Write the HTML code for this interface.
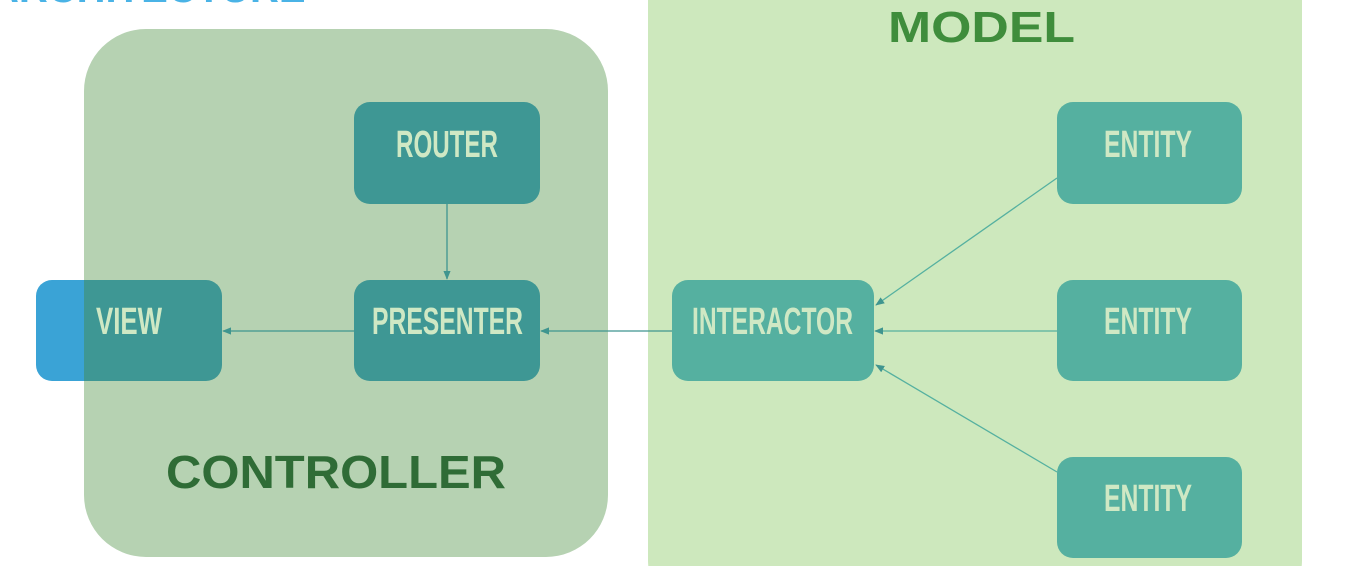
<!DOCTYPE html>
<html><head><style>html,body{margin:0;padding:0;background:#fff;overflow:hidden}</style></head>
<body>
<svg width="1352" height="566" xmlns="http://www.w3.org/2000/svg" style="display:block">
<defs>
<marker id="a" viewBox="0 0 10 10" refX="9" refY="5" markerWidth="7" markerHeight="7" orient="auto-start-reverse">
<path d="M0,1 L10,5 L0,9 z" fill="#3f958f"/></marker>
</defs>
<text x="-10" y="2" font-family="Liberation Sans" font-weight="bold" font-size="40" fill="#4ab3e6">ARCHITECTURE</text>
<rect x="648" y="-60" width="654" height="680" rx="60" fill="#cde8bd"/>
<rect x="36" y="280" width="186" height="101" rx="16" fill="#3aa3d6"/>
<rect x="84" y="29" width="524" height="528" rx="62" fill="#b6d2b2"/>
<path d="M84,280 H206 a16,16 0 0 1 16,16 V365 a16,16 0 0 1 -16,16 H84 z" fill="#3e9794"/>
<rect x="354" y="102" width="186" height="102" rx="16" fill="#3e9794"/>
<rect x="354" y="280" width="186" height="101" rx="16" fill="#3e9794"/>
<rect x="672" y="280" width="202" height="101" rx="16" fill="#55b0a0"/>
<rect x="1057" y="102" width="185" height="102" rx="16" fill="#55b0a0"/>
<rect x="1057" y="280" width="185" height="101" rx="16" fill="#55b0a0"/>
<rect x="1057" y="457" width="185" height="101" rx="16" fill="#55b0a0"/>
<g stroke="#3f958f" stroke-width="1.3" fill="none">
<line x1="447" y1="204" x2="447" y2="279" marker-end="url(#a)"/>
<line x1="354" y1="331" x2="223" y2="331" marker-end="url(#a)"/>
<line x1="672" y1="331" x2="541" y2="331" marker-end="url(#a)"/>
<line x1="1057" y1="331" x2="875" y2="331" marker-end="url(#a)" stroke="#55b0a0"/>
<line x1="1057" y1="178" x2="876" y2="305" marker-end="url(#a)" stroke="#55b0a0"/>
<line x1="1057" y1="472" x2="876" y2="365" marker-end="url(#a)" stroke="#55b0a0"/>
</g>
<g font-family="Liberation Sans Narrow, Liberation Sans, sans-serif" font-weight="bold" font-size="38" fill="#cfe8c4">
<text x="396" y="157" textLength="102" lengthAdjust="spacingAndGlyphs">ROUTER</text>
<text x="372" y="334" textLength="151" lengthAdjust="spacingAndGlyphs">PRESENTER</text>
<text x="96" y="334" textLength="66" lengthAdjust="spacingAndGlyphs">VIEW</text>
<text x="692" y="334" textLength="161" lengthAdjust="spacingAndGlyphs">INTERACTOR</text>
<text x="1104" y="157" textLength="88" lengthAdjust="spacingAndGlyphs">ENTITY</text>
<text x="1104" y="334" textLength="88" lengthAdjust="spacingAndGlyphs">ENTITY</text>
<text x="1104" y="511" textLength="88" lengthAdjust="spacingAndGlyphs">ENTITY</text>
</g>
<text x="166" y="488" textLength="340" lengthAdjust="spacingAndGlyphs" font-family="Liberation Sans, sans-serif" font-weight="bold" font-size="46" fill="#2f6c36">CONTROLLER</text>
<text x="888" y="42" textLength="187" lengthAdjust="spacingAndGlyphs" font-family="Liberation Sans, sans-serif" font-weight="bold" font-size="44" fill="#3f8d3c">MODEL</text>
</svg>
</body></html>
